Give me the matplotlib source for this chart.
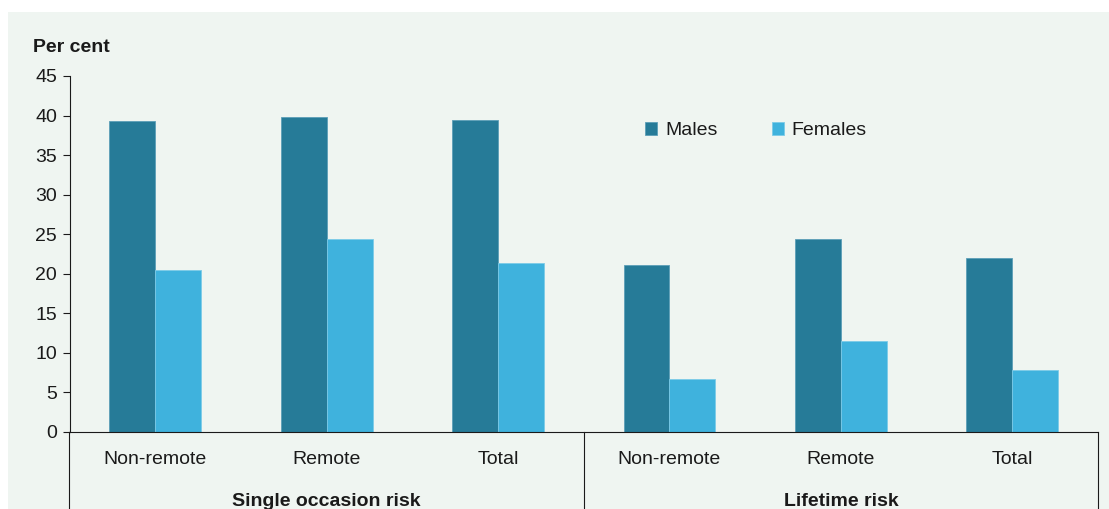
import matplotlib.pyplot as plt
from matplotlib.patches import Rectangle
from matplotlib.transforms import blended_transform_factory
import numpy as np

plt.rcParams["font.family"] = ["Liberation Sans", "DejaVu Sans"]

categories = ["Non-remote", "Remote", "Total", "Non-remote", "Remote", "Total"]
groups = ["Single occasion risk", "Lifetime risk"]
males = [39.3, 39.8, 39.5, 21.1, 24.4, 22.0]
females = [20.5, 24.4, 21.4, 6.7, 11.5, 7.8]

bg = "#eff5f1"
c_male = "#267b98"
c_female = "#3fb2dd"
txt = "#1a1a1a"
fs = 14

W, H = 1109, 509
fig = plt.figure(figsize=(W / 100, H / 100), dpi=100)
fig.patch.set_facecolor("white")
fig.patches.append(Rectangle((8 / W, 0), 1 - 8 / W, (H - 12) / H,
                             transform=fig.transFigure, facecolor=bg,
                             edgecolor="none", zorder=-10))

ax = fig.add_axes([69.5 / W, (H - 432) / H, (1098 - 69.5) / W, (432 - 76) / H])
ax.set_facecolor("none")

x = np.arange(len(categories))
bw = 0.268
ax.bar(x - bw / 2, males, bw, color=c_male, edgecolor="#5c9fb8",
       linewidth=0.6, label="Males")
ax.bar(x + bw / 2, females, bw, color=c_female, edgecolor="#7ccbe8",
       linewidth=0.6, label="Females")

ax.set_xlim(-0.5, 5.5)
ax.set_ylim(0, 45)
ax.set_yticks(range(0, 46, 5))
ax.tick_params(axis="y", labelsize=fs, length=5, width=0.8, colors=txt, pad=4)
ax.set_xticks([])
for s in ["top", "right"]:
    ax.spines[s].set_visible(False)
for s in ["left", "bottom"]:
    ax.spines[s].set_linewidth(0.8)
    ax.spines[s].set_color(txt)

# category labels and group separators below the axis
tr = blended_transform_factory(ax.transData, ax.transAxes)
for xi, lab in zip(x, categories):
    ax.text(xi, -0.077, lab, transform=tr, ha="center", va="center",
            fontsize=fs, color=txt)
for xv in [-0.5, 2.5, 5.5]:
    ax.plot([xv, xv], [0, -0.3], transform=tr, color=txt, lw=0.8,
            clip_on=False)
for gi, g in enumerate(groups):
    ax.text(1 + 3 * gi, -0.196, g, transform=tr, ha="center", va="center",
            fontsize=fs, fontweight="bold", color=txt)

fig.text(33 / W, 1 - 47 / H, "Per cent", fontsize=fs, fontweight="bold",
         color=txt, va="center", ha="left")

ax.legend(loc="center left", bbox_to_anchor=(0.5596, 0.846), ncol=2,
          frameon=False, fontsize=fs, handlelength=0.62, handleheight=0.62,
          handletextpad=0.41, columnspacing=2.78, borderpad=0,
          borderaxespad=0, labelcolor=txt)

fig.savefig("out.png", dpi=100)
